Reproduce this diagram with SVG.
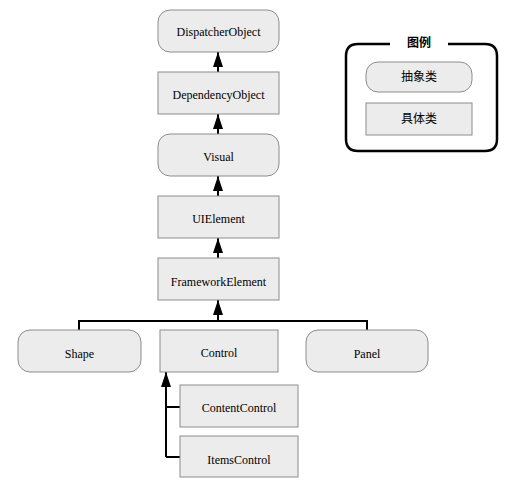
<svg xmlns="http://www.w3.org/2000/svg" width="527" height="493" viewBox="0 0 527 493">
<style>
.n{fill:#ececec;stroke:#8c8c8c;stroke-width:1}
.t{font-family:'Liberation Serif','Times New Roman',Times,serif;font-size:12px;fill:#000;text-anchor:middle;dominant-baseline:central}
.c{fill:none;stroke:#000;stroke-width:2}
.lt{font-family:'Liberation Sans','Noto Sans CJK SC',sans-serif;font-size:12px;fill:#000;text-anchor:middle;dominant-baseline:central}
</style>
<defs>
<marker id="a" markerWidth="15" markerHeight="10" refX="15" refY="5" orient="auto" markerUnits="userSpaceOnUse" viewBox="0 0 15 10">
<path d="M0,0 L15,5 L0,10 Z" fill="#000"/>
</marker>
</defs>
<rect width="527" height="493" fill="#fff"/>
<g id="connectors">
<line class="c" x1="218" y1="72" x2="218" y2="52" marker-end="url(#a)"/>
<line class="c" x1="218" y1="134" x2="218" y2="114" marker-end="url(#a)"/>
<line class="c" x1="218" y1="196" x2="218" y2="176" marker-end="url(#a)"/>
<line class="c" x1="218" y1="258" x2="218" y2="238" marker-end="url(#a)"/>
<line class="c" x1="218" y1="321" x2="218" y2="300" marker-end="url(#a)"/>
<polyline class="c" points="79,330 79,321 367,321 367,330"/>
<line class="c" x1="166" y1="457" x2="166" y2="372" marker-end="url(#a)"/>
<polyline class="c" points="166,407 180,407"/>
<polyline class="c" points="166,457 180,457"/>
</g>
<g id="DispatcherObject"><rect class="n" x="158" y="10" width="121" height="42" rx="12"/><text class="t" x="218.5" y="32">DispatcherObject</text></g>
<g id="DependencyObject"><rect class="n" x="158" y="72" width="121" height="42"/><text class="t" x="218.5" y="95">DependencyObject</text></g>
<g id="Visual"><rect class="n" x="158" y="134" width="121" height="42" rx="12"/><text class="t" x="218.5" y="157">Visual</text></g>
<g id="UIElement"><rect class="n" x="158" y="196" width="121" height="42"/><text class="t" x="218.5" y="219">UIElement</text></g>
<g id="FrameworkElement"><rect class="n" x="158" y="258" width="121" height="42"/><text class="t" x="218.5" y="282">FrameworkElement</text></g>
<g id="Shape"><rect class="n" x="18" y="330" width="123" height="42" rx="12"/><text class="t" x="79.5" y="354">Shape</text></g>
<g id="Control"><rect class="n" x="160" y="330" width="118" height="42"/><text class="t" x="219" y="353">Control</text></g>
<g id="Panel"><rect class="n" x="306" y="330" width="122" height="42" rx="12"/><text class="t" x="367" y="354">Panel</text></g>
<g id="ContentControl"><rect class="n" x="180" y="385" width="118" height="42"/><text class="t" x="239" y="408">ContentControl</text></g>
<g id="ItemsControl"><rect class="n" x="180" y="436" width="118" height="41"/><text class="t" x="239" y="460">ItemsControl</text></g>
<g id="legend">
<path d="M390,44 H358 Q346,44 346,56 V139 Q346,151 358,151 H485 Q497,151 497,139 V56 Q497,44 485,44 H448" fill="none" stroke="#000" stroke-width="2.5"/>
<text class="lt" x="419" y="43" font-weight="bold">图例</text>
<g id="legend-abstract"><rect class="n" x="366" y="62" width="106" height="30" rx="12"/><text class="lt" x="419" y="77">抽象类</text></g>
<g id="legend-concrete"><rect class="n" x="366" y="103" width="106" height="32"/><text class="lt" x="419" y="119">具体类</text></g>
</g>
</svg>
